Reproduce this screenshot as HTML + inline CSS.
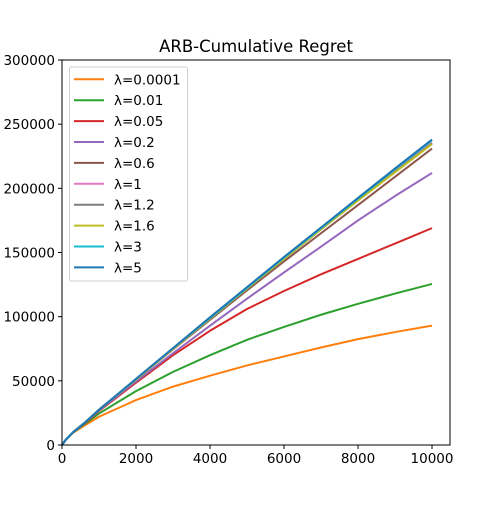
<!DOCTYPE html>
<html><head><meta charset="utf-8"><style>
body{margin:0;background:#fff}
svg{font-family:"DejaVu Sans","Liberation Sans",sans-serif}
</style></head><body>
<svg id="c" width="500" height="500" viewBox="0 0 500 500">
<rect width="500" height="500" fill="#fff"/>
<text x="256" y="52" text-anchor="middle" font-size="16.5">ARB-Cumulative Regret</text>
<g id="plot"></g>
</svg>
<script>
const xs=[0,100,300,600,1000,2000,3000,4000,5000,6000,7000,8000,9000,10000];
const labels=["λ=0.0001","λ=0.01","λ=0.05","λ=0.2","λ=0.6","λ=1","λ=1.2","λ=1.6","λ=3","λ=5"];
const colors=["#ff7f0e","#2ca02c","#d62728","#9467bd","#8c564b","#e377c2","#7f7f7f","#bcbd22","#17becf","#1f77b4"];
const s0=[0,4000,9500,15000,22000,35000,45500,54000,62000,69000,76000,82500,88000,93000];
const s1=[0,4000,10000,16000,24500,42000,57000,70000,82000,92000,101500,110000,118000,125500];
const s2=[0,4000,10000,16500,26500,48500,70000,89000,106000,120000,133000,145000,157000,169000];
const s3=[0,4000,10000,17000,27000,49500,71500,93000,114000,134500,154500,175000,194000,212000];
const s4=[0,4000,10000,17000,27500,51000,74500,97500,120500,143000,165000,187000,209000,231000];
const s5=[0,4000,10000,17000,27500,51000,75000,98500,122000,145000,168000,191000,213500,235500];
const s6=[0,4000,10000,17000,27500,51000,75000,98500,122000,145000,168000,191000,213000,235000];
const s7=[0,4000,10000,17000,27500,51000,75000,98500,122000,145000,168000,190500,212500,234500];
const s8=[0,4000,10000,17000,27500,51500,75500,99000,122500,146000,169000,192000,215000,237500];
const s9=[0,4000,10000,17000,27500,51500,75500,99500,123000,146500,169500,192500,215500,238000];
const series=[s0,s1,s2,s3,s4,s5,s6,s7,s8,s9];
const xTicks=[0,2000,4000,6000,8000,10000];
const yTicks=[0,50000,100000,150000,200000,250000,300000];
const L=62,R=450,T=60,B=445;
const X=v=>L+v*(R-L)/10486;
const Y=v=>B-v*(B-T)/300000;
const NS="http://www.w3.org/2000/svg";
const g=document.getElementById('plot');
function mk(t,a,p){const e=document.createElementNS(NS,t);for(const k in a)e.setAttribute(k,a[k]);(p||g).appendChild(e);return e;}
series.forEach((s,i)=>{
 const d=s.map((v,j)=>(j?'L':'M')+X(xs[j]).toFixed(2)+' '+Y(v).toFixed(2)).join(' ');
 const p=mk('path',{d:d,fill:'none',stroke:colors[i],'stroke-width':2,'stroke-linejoin':'round'});
 
 
});
const fr=mk('rect',{x:L,y:T,width:R-L,height:B-T,fill:'none',stroke:'#000','stroke-width':1});


xTicks.forEach(v=>{
 mk('line',{x1:X(v),x2:X(v),y1:B,y2:B+4,stroke:'#000'});
 const t=mk('text',{x:X(v),y:B+18,'text-anchor':'middle','font-size':13.5});t.textContent=v;
 
 
});
yTicks.forEach(v=>{
 mk('line',{x1:L-4,x2:L,y1:Y(v),y2:Y(v),stroke:'#000'});
 const t=mk('text',{x:L-7,y:Y(v)+5,'text-anchor':'end','font-size':13.5});t.textContent=v;
 
 
});
const lg=mk('g',{});


mk('rect',{x:69.5,y:67,width:118,height:214,rx:2,fill:'#fff','fill-opacity':0.8,stroke:'#d0d0d0'},lg);
labels.forEach((l,i)=>{
 const y=79.3+i*20.9;
 const e=mk('g',{},lg);
 
 
 mk('line',{x1:74,x2:104,y1:y,y2:y,stroke:colors[i],'stroke-width':2},e);
 const t=mk('text',{x:114,y:y+5,'font-size':13.5},e);t.textContent=l;
});
</script>
</body></html>
